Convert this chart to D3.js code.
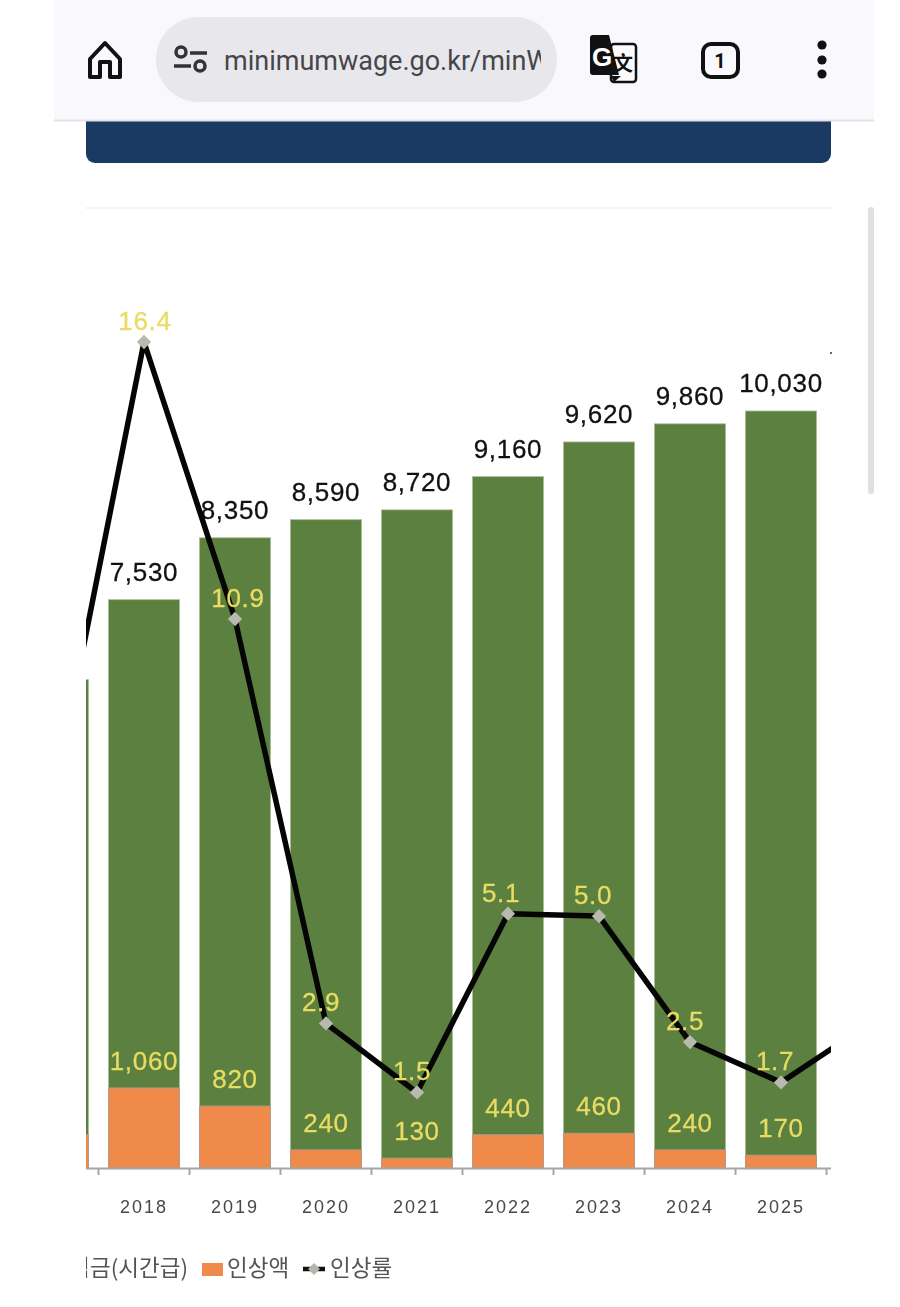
<!DOCTYPE html>
<html>
<head>
<meta charset="utf-8">
<script src="https://cdn.jsdelivr.net/npm/d3@7"></script>
<style>
  html, body { margin: 0; padding: 0; background: #fff; }
  svg { display: block; filter: blur(0.5px); }
</style>
</head>
<body>
<div id="svg-area"></div>
<script>
// chart data, 2017 and 2026 sit mostly outside the visible area
const years = ["2017", "2018", "2019", "2020", "2021", "2022", "2023", "2024", "2025", "2026"];
const wages = [6470, 7530, 8350, 8590, 8720, 9160, 9620, 9860, 10030, 10320];
const raises = [440, 1060, 820, 240, 130, 440, 460, 240, 170, 290];
const rates = [7.3, 16.4, 10.9, 2.87, 1.5, 5.05, 5.0, 2.5, 1.7, 2.9];
const rateLabels = ["7.3", "16.4", "10.9", "2.9", "1.5", "5.1", "5.0", "2.5", "1.7", "2.9"];
const legendNames = ["최저임금(시간급)", "인상액", "인상률"];

// define constants
const w = 900;
const h = 1307;
const plot = { left: 86, right: 831, base: 1168 };
const green = "#5b803f";
const orange = "#ef8a4b";
const yellow = "#e9dc62";
const labelFont = "'Liberation Sans', Arial, sans-serif";
const hangulFont = "'Noto Sans CJK KR', sans-serif";
// the rate labels do not sit exactly over their markers
const rateLabelDx = [0, 1, 3, -5, -5, -7, -6, -5, -6, 0];

const svg = d3.select("#svg-area").append("svg").attr("width", w).attr("height", h);

// define scales
const xScale = d3.scaleBand().domain(years).range([7.5, 917.5]).paddingInner(0.22).paddingOuter(0.11);
const yScale = d3.scaleLinear().domain([0, 10030]).range([plot.base, 411]);
const rateScale = d3.scaleLinear().domain([0, 16.4]).range([plot.base, 342]);
const xMid = (d) => xScale(d) + xScale.bandwidth() / 2;
const isVisible = (d) => xMid(d) > plot.left && xMid(d) < plot.right;

svg.append("defs").append("clipPath").attr("id", "plot-clip")
    .append("rect").attr("x", plot.left).attr("y", 200)
    .attr("width", plot.right - plot.left).attr("height", 1100);
svg.select("defs").append("clipPath").attr("id", "url-clip")
    .append("rect").attr("x", 200).attr("y", 20).attr("width", 341).attr("height", 80);

drawBrowser();

const chart = svg.append("g").attr("clip-path", "url(#plot-clip)");

// wage bars and raise bars
chart.selectAll(".wage").data(years).join("rect").attr("class", "wage")
    .attr("x", (d) => xScale(d))
    .attr("y", (d, i) => yScale(wages[i]))
    .attr("width", xScale.bandwidth())
    .attr("height", (d, i) => plot.base - yScale(wages[i]))
    .attr("fill", green)
    .attr("stroke", "#a8bf92")
    .attr("stroke-width", 0.8);

chart.selectAll(".raise").data(years).join("rect").attr("class", "raise")
    .attr("x", (d) => xScale(d))
    .attr("y", (d, i) => yScale(raises[i]))
    .attr("width", xScale.bandwidth())
    .attr("height", (d, i) => plot.base - yScale(raises[i]))
    .attr("fill", orange)
    .attr("stroke", "#b59a86")
    .attr("stroke-width", 1);

// append the axis, ticks go between the categories
const axis = chart.append("g")
    .attr("transform", "translate(0," + plot.base + ")")
    .call(d3.axisBottom(xScale).tickSize(7).tickPadding(25)
        .tickFormat((d) => isVisible(d) ? d : ""));
axis.select(".domain").attr("stroke", "#a6a6a6").attr("stroke-width", 2);
axis.selectAll(".tick line")
    .attr("transform", "translate(" + (-xScale.step() / 2) + ",0)")
    .attr("stroke", "#a6a6a6").attr("stroke-width", 2);
axis.selectAll(".tick text")
    .attr("fill", "#484848")
    .style("font", "18px " + labelFont)
    .style("letter-spacing", "2px");

// wage labels
chart.selectAll(".wage-label").data(years.filter(isVisible)).join("text").attr("class", "wage-label")
    .attr("x", xMid)
    .attr("y", (d) => yScale(wages[years.indexOf(d)]) - 19)
    .attr("text-anchor", "middle")
    .attr("fill", "#111")
    .attr("stroke", "#111")
    .attr("stroke-width", 0.3)
    .style("font", "26px " + labelFont)
    .style("letter-spacing", "0.7px")
    .text((d) => d3.format(",")(wages[years.indexOf(d)]));

// raise labels
chart.selectAll(".raise-label").data(years.filter(isVisible)).join("text").attr("class", "raise-label")
    .attr("x", xMid)
    .attr("y", (d) => yScale(raises[years.indexOf(d)]) - 18)
    .attr("text-anchor", "middle")
    .attr("fill", yellow)
    .attr("stroke", yellow)
    .attr("stroke-width", 0.3)
    .style("font", "26px " + labelFont)
    .style("letter-spacing", "0.7px")
    .text((d) => d3.format(",")(raises[years.indexOf(d)]));

// create line
const line = d3.line()
    .x((d, i) => xMid(years[i]))
    .y((d) => rateScale(d));

chart.append("path")
    .datum(rates)
    .attr("fill", "none")
    .attr("stroke", "#050505")
    .attr("stroke-width", 5.5)
    .attr("stroke-linejoin", "round")
    .attr("d", line);

chart.selectAll(".rate-dot").data(rates).join("path").attr("class", "rate-dot")
    .attr("d", d3.symbol(d3.symbolDiamond2, 130))
    .attr("transform", (d, i) => "translate(" + xMid(years[i]) + "," + rateScale(d) + ")")
    .attr("fill", "#b8bab0");

chart.selectAll(".rate-label").data(years.filter(isVisible)).join("text").attr("class", "rate-label")
    .attr("x", (d) => xMid(d) + rateLabelDx[years.indexOf(d)])
    .attr("y", (d) => rateScale(rates[years.indexOf(d)]) - 12)
    .attr("text-anchor", "middle")
    .attr("fill", yellow)
    .attr("stroke", yellow)
    .attr("stroke-width", 0.3)
    .style("font", "26px " + labelFont)
    .style("letter-spacing", "0.7px")
    .text((d) => rateLabels[years.indexOf(d)]);

// legend, the first entry runs off the left edge
const legend = chart.append("g");
legend.append("rect").attr("x", -30).attr("y", 1262).attr("width", 20).attr("height", 13).attr("fill", green);
legend.append("rect").attr("x", 202).attr("y", 1263).attr("width", 21).attr("height", 13).attr("fill", orange);
legend.append("line").attr("x1", 303).attr("x2", 325).attr("y1", 1269).attr("y2", 1269)
    .attr("stroke", "#111").attr("stroke-width", 4.5);
legend.append("path").attr("d", d3.symbol(d3.symbolDiamond2, 90))
    .attr("transform", "translate(314,1269)").attr("fill", "#b4b6ae");
legend.selectAll("text").data(legendNames).join("text")
    .attr("x", (d, i) => [188, 227, 330][i])
    .attr("y", 1276)
    .attr("text-anchor", (d, i) => i == 0 ? "end" : "start")
    .attr("fill", "#555")
    .style("font", "22.5px " + hangulFont)
    .text((d) => d);

// phone browser around the chart
function drawBrowser() {
    // navy panel above the chart
    svg.append("path")
        .attr("d", "M86 120H831V154a9 9 0 0 1-9 9H95a9 9 0 0 1-9-9Z")
        .attr("fill", "#1a3a63");
    svg.append("line").attr("x1", 86).attr("x2", 831).attr("y1", 208).attr("y2", 208)
        .attr("stroke", "#f3f3f3").attr("stroke-width", 2);
    svg.append("rect").attr("x", 868).attr("y", 207).attr("width", 6).attr("height", 287)
        .attr("rx", 3).attr("fill", "#e0e0e0");
    svg.append("circle").attr("cx", 831).attr("cy", 353).attr("r", 1).attr("fill", "#333");

    // toolbar
    svg.append("rect").attr("x", 54).attr("y", 0).attr("width", 820).attr("height", 120).attr("fill", "#f8f8fd");
    svg.append("line").attr("x1", 54).attr("x2", 874).attr("y1", 120.5).attr("y2", 120.5).attr("stroke", "#e2e2e6").attr("stroke-width", 2);
    svg.append("rect").attr("x", 156).attr("y", 17).attr("width", 401).attr("height", 85).attr("rx", 42).attr("fill", "#e8e8ec");

    // home icon
    svg.append("path")
        .attr("d", "M90 59L105 43L120 59V77H110V62H100V77H90Z")
        .attr("fill", "none").attr("stroke", "#111").attr("stroke-width", 4).attr("stroke-linejoin", "round");

    // site settings icon
    const tune = svg.append("g").attr("fill", "none").attr("stroke", "#333").attr("stroke-width", 3.5);
    tune.append("circle").attr("cx", 181).attr("cy", 52).attr("r", 5);
    tune.append("path").attr("d", "M190 53H207M174 66H191");
    tune.append("circle").attr("cx", 200).attr("cy", 66).attr("r", 5);

    svg.append("text").attr("x", 224).attr("y", 70)
        .attr("clip-path", "url(#url-clip)")
        .attr("fill", "#46464a")
        .style("font", "27px Roboto, sans-serif")
        .text("minimumwage.go.kr/minW");

    // translate icon
    svg.append("rect").attr("x", 611).attr("y", 44).attr("width", 25).attr("height", 38).attr("rx", 3)
        .attr("fill", "#fbfbfe").attr("stroke", "#111").attr("stroke-width", 2.5);
    svg.append("path").attr("d", "M593 35H609L619 75H593Q590 75 590 72V38Q590 35 593 35Z").attr("fill", "#111");
    svg.append("path").attr("d", "M611 76H621L614 82Z").attr("fill", "#111");
    svg.append("text").attr("x", 602).attr("y", 66).attr("text-anchor", "middle")
        .attr("fill", "#fff").style("font", "bold 26px 'Liberation Sans', sans-serif").text("G");
    svg.append("text").attr("x", 623).attr("y", 71).attr("text-anchor", "middle")
        .attr("fill", "#111").style("font", "bold 20px 'Noto Sans CJK SC', sans-serif").text("文");

    // tab counter
    svg.append("rect").attr("x", 703).attr("y", 44).attr("width", 35).attr("height", 33).attr("rx", 8)
        .attr("fill", "none").attr("stroke", "#111").attr("stroke-width", 4);
    svg.append("text").attr("x", 720).attr("y", 68).attr("text-anchor", "middle")
        .attr("fill", "#111").style("font", "bold 20px Roboto, sans-serif").text("1");

    // menu dots
    svg.selectAll(".menu-dot").data([45, 60, 74]).join("circle").attr("class", "menu-dot")
        .attr("cx", 822).attr("cy", (d) => d).attr("r", 4.6).attr("fill", "#111");
}
</script>
</body>
</html>
